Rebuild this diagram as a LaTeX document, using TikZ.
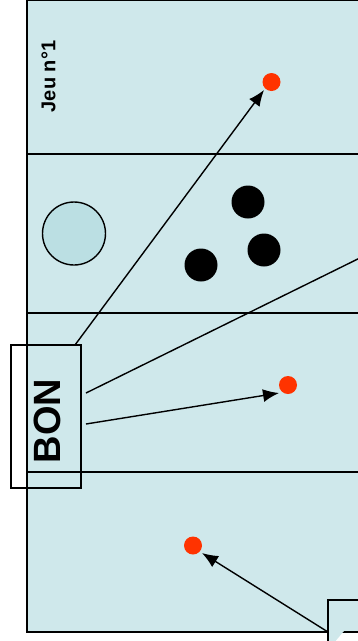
\documentclass[tikz,border=0pt]{standalone}
\usepackage{fontspec}
\setmainfont{Liberation Sans}
\usetikzlibrary{arrows.meta}
\definecolor{field}{HTML}{CFE8EB}
\definecolor{hole}{HTML}{BBDFE3}
\definecolor{ball}{HTML}{FF3300}
\tikzset{
  fieldline/.style={draw=black, line width=1.5pt},
  ballred/.style={circle, fill=ball, minimum size=18pt, inner sep=0pt},
  ballblack/.style={circle, fill=black, minimum size=33pt, inner sep=0pt},
  shot/.style={line width=1.4pt, -{Latex[length=16pt,width=13pt]}},
  plain/.style={line width=1.4pt}
}
\begin{document}
\begin{tikzpicture}[x=1pt,y=-1pt]
\useasboundingbox (0,0) rectangle (358,641);
% field
\fill[field] (27,0) rectangle (370,632);
\draw[line width=2pt] (370,0) -- (27,0) -- (27,632) -- (370,632);
\draw[fieldline] (27,154) -- (370,154);
\draw[fieldline] (27,313) -- (370,313);
\draw[fieldline] (27,472) -- (370,472);
% bottom right box
\draw[fieldline, fill=field] (328,650) -- (328,600) -- (370,600);
% title
\node[rotate=90, font=\bfseries\fontsize{20}{24}\selectfont] (title) at (48.5,76.5) {Jeu n°1};
% hole
\node[circle, draw, line width=1.4pt, fill=hole, minimum size=63pt, inner sep=0pt] (hole) at (74,233.5) {};
% black balls
\node[ballblack] (b1) at (248,202) {};
\node[ballblack] (b2) at (264,250) {};
\node[ballblack] (b3) at (201,265) {};
% red balls
\node[ballred] (r1) at (271.5,82) {};
\node[ballred] (r2) at (288,385) {};
\node[ballred] (r3) at (193,545.5) {};
% BON box
\node[draw, line width=1.4pt, minimum width=70pt, minimum height=143pt, inner sep=0pt] (bon) at (46,416.5) {};
\node[rotate=90, font=\bfseries\fontsize{38}{44}\selectfont] (bontext) at (47,421) {BON};
% endpoints
\coordinate (s1) at (75,345);
\coordinate (t1) at (264,90);
\coordinate (s2) at (86,393);
\coordinate (t2) at (372,252);
\coordinate (s3) at (86,424);
\coordinate (t3) at (279,393);
\coordinate (s4) at (328,632);
\coordinate (t4) at (202,553);
\draw[shot] (s1) -- (t1);
\draw[plain] (s2) -- (t2);
\draw[shot] (s3) -- (t3);
\draw[shot] (s4) -- (t4);
\end{tikzpicture}
\end{document}
